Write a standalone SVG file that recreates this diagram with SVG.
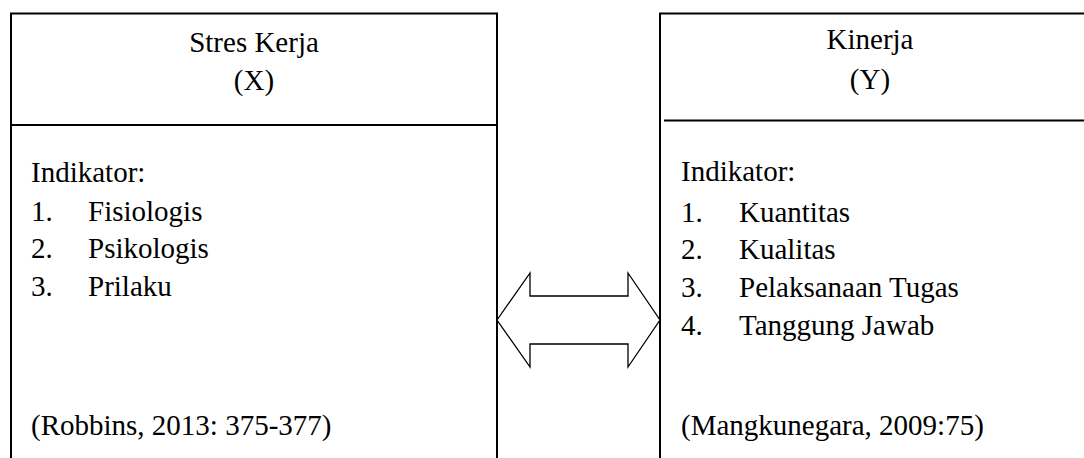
<svg xmlns="http://www.w3.org/2000/svg" width="1084" height="458" viewBox="0 0 1084 458">
<style>
.box{fill:none;stroke:#000;stroke-width:2}
text{font-family:'Liberation Serif','Times New Roman',Times,serif;font-size:29px;fill:#000}
.c{text-anchor:middle}
.arrow{fill:#fff;stroke:#000;stroke-width:1.3;stroke-linejoin:miter}
</style>
<rect width="1084" height="458" fill="#fff"/>
<g id="node-x">
<path class="box" d="M11,458 V13.5 H497 V458"/>
<line class="box" x1="11" y1="125" x2="497" y2="125"/>
<text class="c" x="254" y="52">Stres Kerja</text>
<text class="c" x="254" y="90">(X)</text>
<text x="31" y="182">Indikator:</text>
<text x="31" y="221">1.</text><text x="88" y="221">Fisiologis</text>
<text x="31" y="258">2.</text><text x="88" y="258">Psikologis</text>
<text x="31" y="296">3.</text><text x="88" y="296">Prilaku</text>
<text x="31" y="435">(Robbins, 2013: 375-377)</text>
</g>
<g id="node-y">
<path class="box" d="M660,458 V13.5 H1084"/>
<line class="box" x1="664" y1="120.5" x2="1084" y2="120.5"/>
<text class="c" x="870" y="49">Kinerja</text>
<text class="c" x="870" y="89">(Y)</text>
<text x="681" y="181">Indikator:</text>
<text x="681" y="222">1.</text><text x="739" y="222">Kuantitas</text>
<text x="681" y="259">2.</text><text x="739" y="259">Kualitas</text>
<text x="681" y="297">3.</text><text x="739" y="297">Pelaksanaan Tugas</text>
<text x="681" y="335">4.</text><text x="739" y="335">Tanggung Jawab</text>
<text x="681" y="435">(Mangkunegara, 2009:75)</text>
</g>
<g id="connectors">
<polygon class="arrow" points="497,320 530,273 530,296 628,296 628,273 660,320 628,367 628,344 530,344 530,367"/>
</g>
</svg>
